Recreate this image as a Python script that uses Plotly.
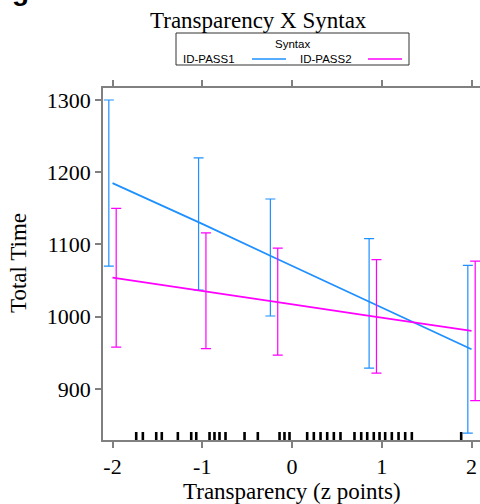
import plotly.graph_objects as go

# ---- data ----
series_names = ["ID-PASS1", "ID-PASS2"]
bar_x = [-2, -1, -0.2, 0.9, 2]
blue_fit = [1185, 1128.5, 1082, 1018.5, 955]
blue_lower = [1070, 1037, 1001, 929, 839]
blue_upper = [1300, 1220, 1163, 1108, 1071]
pink_fit = [1054, 1036, 1021, 1000.5, 980.5]
pink_lower = [958, 956, 947, 922, 884]
pink_upper = [1150, 1116, 1095, 1079, 1077]
rug_x = [-1.736, -1.662, -1.513, -1.451, -1.272, -1.123, -1.067, -0.919,
         -0.864, -0.808, -0.741, -0.529, -0.381, -0.139, -0.084, -0.028,
         0.169, 0.243, 0.318, 0.392, 0.466, 0.540, 0.696, 0.771, 0.838,
         0.911, 0.975, 1.038, 1.112, 1.187, 1.261, 1.335, 1.885]
x_ticks = [-2, -1, 0, 1, 2]
x_tick_labels = ["-2", "-1", "0", "1", "2"]
y_ticks = [900, 1000, 1100, 1200, 1300]
y_tick_labels = ["900", "1000", "1100", "1200", "1300"]

# ---- styling ----
W, H = 480, 504
L, R, T, B = 103, 0, 88, 64
BLUE = "#1E90FF"
PINK = "#FF00FF"
AXC = "#808080"
SERIF = "Liberation Serif"
SANS = "Liberation Sans"
DODGE = 0.041

PW = W - L - R
PH = H - T - B


def px(xp):
    return (xp - L) / PW


def py(yp):
    return (T + PH - yp) / PH


fig = go.Figure()

for name, fit, lo, hi, col, off in [
    (series_names[0], blue_fit, blue_lower, blue_upper, BLUE, -DODGE),
    (series_names[1], pink_fit, pink_lower, pink_upper, PINK, DODGE),
]:
    fig.add_trace(go.Scatter(
        x=bar_x, y=fit, mode="lines", name=name,
        line=dict(color=col, width=1.8), showlegend=False, hoverinfo="skip"))
    fig.add_trace(go.Scatter(
        x=[v + off for v in bar_x], y=fit, mode="markers",
        marker=dict(size=1, opacity=0), showlegend=False, hoverinfo="skip",
        error_y=dict(type="data", symmetric=False,
                     array=[h - f for h, f in zip(hi, fit)],
                     arrayminus=[f - l for f, l in zip(fit, lo)],
                     color=col, thickness=1.2, width=5)))

# rug
rx, ry = [], []
rug_h = 8 / PH
for v in rug_x:
    rx += [v, v, None]
    ry += [0, rug_h, None]
fig.add_trace(go.Scatter(x=rx, y=ry, mode="lines", yaxis="y2",
                         line=dict(color="black", width=2.6),
                         showlegend=False, hoverinfo="skip"))

fig.update_layout(
    width=W, height=H,
    margin=dict(l=L, r=R, t=T, b=B, pad=0),
    paper_bgcolor="white", plot_bgcolor="white",
    showlegend=False,
    xaxis=dict(range=[-2.106, -2.106 + PW / 89.75], tickvals=x_ticks,
               ticktext=x_tick_labels, showgrid=False, zeroline=False,
               showline=True, linecolor=AXC, linewidth=1.5, mirror="ticks",
               ticks="outside", ticklen=6, tickwidth=1.5, tickcolor=AXC,
               tickfont=dict(family=SERIF, size=22, color="black")),
    yaxis=dict(range=[829.4, 1316.6], tickvals=y_ticks, ticktext=y_tick_labels,
               showgrid=False, zeroline=False, showline=True, linecolor=AXC,
               linewidth=1.5, ticks="outside", ticklen=6, tickwidth=1.5,
               tickcolor=AXC,
               tickfont=dict(family=SERIF, size=22, color="black")),
    yaxis2=dict(range=[0, 1], overlaying="y", visible=False, fixedrange=True),
)

ann = [
    dict(text="Transparency X Syntax", x=px(258), y=py(21),
         font=dict(family=SERIF, size=23, color="black")),
    dict(text="Transparency (z points)", x=px(292), y=py(491),
         font=dict(family=SERIF, size=23, color="black")),
    dict(text="Total Time", x=px(18), y=py(263), textangle=-90,
         font=dict(family=SERIF, size=23, color="black")),
    dict(text="Syntax", x=px(292), y=py(44),
         font=dict(family=SANS, size=11.5, color="black")),
    dict(text=series_names[0], x=px(209), y=py(59.5),
         font=dict(family=SANS, size=11.5, color="black")),
    dict(text=series_names[1], x=px(326), y=py(59.5),
         font=dict(family=SANS, size=11.5, color="black")),
    dict(text="<b>g</b>", x=px(20), y=py(-10),
         font=dict(family=SANS, size=28, color="black")),
]
for a in ann:
    a.update(xref="paper", yref="paper", showarrow=False,
             xanchor="center", yanchor="middle")
fig.update_layout(annotations=ann)

fig.update_layout(shapes=[
    dict(type="rect", xref="paper", yref="paper", x0=px(176), x1=px(409),
         y0=py(65), y1=py(33), line=dict(color="#333333", width=1)),
    dict(type="line", xref="paper", yref="paper", x0=px(252), x1=px(286),
         y0=py(59), y1=py(59), line=dict(color=BLUE, width=1.5)),
    dict(type="line", xref="paper", yref="paper", x0=px(368), x1=px(402),
         y0=py(59), y1=py(59), line=dict(color=PINK, width=1.5)),
])

fig.write_html("out.html")
